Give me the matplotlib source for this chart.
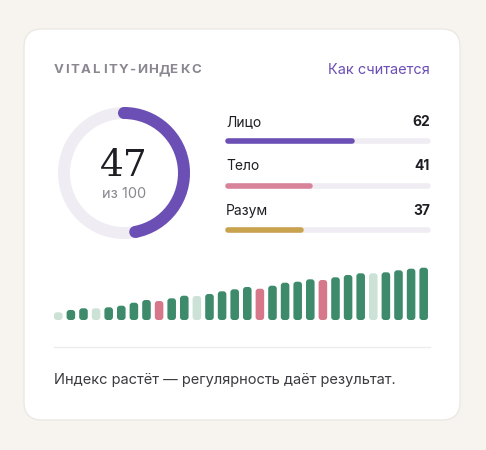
import matplotlib
matplotlib.use("Agg")
import matplotlib.pyplot as plt
from matplotlib.patches import FancyBboxPatch, Wedge, Circle
import numpy as np

plt.rcParams['font.family'] = ['Inter', 'DejaVu Sans']

title = "VITALITY-ИНДЕКС"
link = "Как считается"
index_value = 47
index_max = 100
categories = ["Лицо", "Тело", "Разум"]
scores = [62, 41, 37]
cat_colors = ["#6b4fb5", "#d9839a", "#c9a24e"]
history = [7.7, 10, 11.7, 11.7, 12.7, 14.3, 17.3, 20, 19, 21.7, 24.3, 24, 26, 28.7, 30.7,
           33, 31.3, 34.3, 37.3, 38.3, 40.7, 40, 42.7, 45, 46.7, 46.7, 47.7, 49.7, 51.3, 52.3]
history_kind = ["l", "g", "g", "l", "g", "g", "g", "g", "p", "g", "g", "l", "g", "g", "g",
                "g", "p", "g", "g", "g", "g", "p", "g", "g", "g", "l", "g", "g", "g", "g"]
kind_color = {"g": "#3d8b6b", "l": "#cde2d7", "p": "#d6788a"}
footer = "Индекс растёт — регулярность даёт результат."

W, H = 486, 450
fig = plt.figure(figsize=(W/100, H/100), dpi=100)
fig.patch.set_facecolor("#f7f3ef")
ax = fig.add_axes([0, 0, 1, 1])
ax.set_xlim(0, W); ax.set_ylim(H, 0); ax.axis("off")

ax.add_patch(FancyBboxPatch((24, 29), 436, 391, boxstyle="round,pad=0,rounding_size=18",
                            fc="white", ec="#ece8e4", lw=1))
x = 54
for ch in title:
    ax.text(x, 70, ch, fontsize=9.5, fontweight="bold", color="#8a8790", va="center")
    x += {"I": 5.5, "-": 7.5, "Y": 10.5}.get(ch, 10.8)
ax.text(430, 70, link, fontsize=10.5, color="#6b4fb5", va="center", ha="right")

# donut
cx, cy, ro, wd = 124, 173, 66, 12
ax.add_patch(Wedge((cx, cy), ro, 0, 360, width=wd, fc="#efedf3", ec="none"))
a0, a1 = 270, 270 + 360 * index_value / index_max
ax.add_patch(Wedge((cx, cy), ro, a0, a1, width=wd, fc="#6b4fb5", ec="none"))
for a in [a0, a1]:
    ang = np.deg2rad(a)
    rm = ro - wd / 2
    ax.add_patch(Circle((cx + rm * np.cos(ang), cy + rm * np.sin(ang)), wd / 2, fc="#6b4fb5", ec="none"))
ax.text(cx, 166, str(index_value), fontsize=27, family="DejaVu Serif", color="#1e1e24",
        ha="center", va="center")
ax.text(cx, 194, f"из {index_max}", fontsize=10.5, color="#8a8790", ha="center", va="center")

# category bars
x0, x1 = 226, 430
for i, (c, s, col) in enumerate(zip(categories, scores, cat_colors)):
    yl = 122 + i * 44.5
    ax.text(x0, yl, c, fontsize=10, color="#1e1e24", va="center")
    ax.text(x1, yl, str(s), fontsize=10, fontweight="bold", color="#1e1e24", va="center", ha="right")
    yb = yl + 19
    ax.plot([x0 + 2, x1 - 2], [yb, yb], color="#efedf3", lw=4, solid_capstyle="round")
    ax.plot([x0 + 2, x0 + (x1 - x0) * s / 100], [yb, yb], color=col, lw=4, solid_capstyle="round")

# history bars
n = len(history)
bx0, bx1, base = 54, 432, 320
step = (bx1 - bx0) / n
bw = step * 0.68
for i, (v, k) in enumerate(zip(history, history_kind)):
    xl = bx0 + i * step
    ax.add_patch(FancyBboxPatch((xl, base - v), bw, v, boxstyle="round,pad=0,rounding_size=3",
                                fc=kind_color[k], ec="none"))

ax.plot([54, 430], [347, 347], color="#ecebee", lw=1)
ax.text(54, 380, footer, fontsize=10.5, color="#3a3a40", va="center")

fig.savefig("out.png", dpi=100, facecolor=fig.get_facecolor())
